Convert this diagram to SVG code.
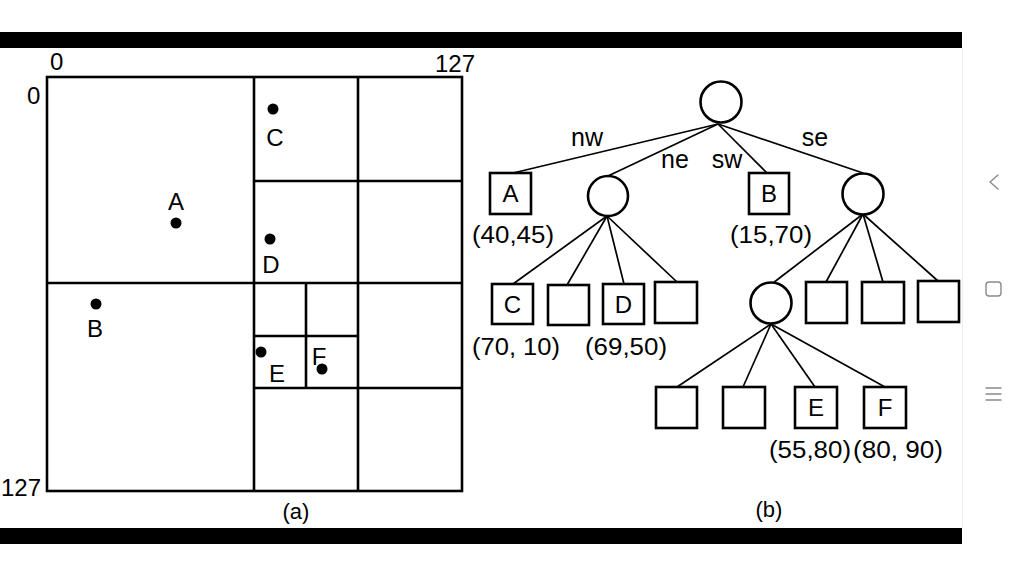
<svg xmlns="http://www.w3.org/2000/svg" width="1024" height="576" viewBox="0 0 1024 576">
<style>
text{font-family:"Liberation Sans",Arial,sans-serif;fill:#000}
.q{fill:none;stroke:#000;stroke-width:2.6}
.lbl{font-size:24px;text-anchor:middle}
.ax{font-size:24px}
.nd{fill:#fff;stroke:#000;stroke-width:2.6}
.e{stroke:#000;stroke-width:1.7;fill:none}
.nt{font-size:24px;text-anchor:middle}
.co{font-size:23px;text-anchor:middle}
.el{font-size:25px;text-anchor:middle}
.nav{fill:none;stroke:#8a8a8a;stroke-width:1.4;stroke-linecap:round;stroke-linejoin:round}
</style>
<rect width="1024" height="576" fill="#fff"/>
<rect x="0" y="32" width="962" height="16" fill="#000"/>
<rect x="0" y="528" width="962" height="16" fill="#000"/>
<line x1="962.5" y1="48" x2="962.5" y2="528" stroke="#eee" stroke-width="1"/>
<g id="nav">
<polyline class="nav" points="998,175 990,182 998,189"/>
<rect class="nav" x="986" y="282" width="15" height="14" rx="3"/>
<line class="nav" x1="986" y1="388" x2="1001" y2="388"/>
<line class="nav" x1="986" y1="394" x2="1001" y2="394"/>
<line class="nav" x1="986" y1="400" x2="1001" y2="400"/>
</g>
<g id="quadtree">
<rect class="q" x="47" y="77" width="415" height="414"/>
<line class="q" x1="254" y1="77" x2="254" y2="491"/>
<line class="q" x1="47" y1="283" x2="462" y2="283"/>
<line class="q" x1="358" y1="77" x2="358" y2="491"/>
<line class="q" x1="254" y1="181" x2="462" y2="181"/>
<line class="q" x1="254" y1="388" x2="462" y2="388"/>
<line class="q" x1="306" y1="283" x2="306" y2="388"/>
<line class="q" x1="254" y1="336" x2="358" y2="336"/>
<text class="ax" x="50" y="70">0</text>
<text class="ax" x="475" y="72" text-anchor="end">127</text>
<text class="ax" x="27" y="104">0</text>
<text class="ax" x="41" y="496" text-anchor="end">127</text>
<circle cx="273" cy="109" r="5.5"/>
<text class="lbl" x="275" y="146">C</text>
<circle cx="176" cy="223" r="5.5"/>
<text class="lbl" x="176" y="210">A</text>
<circle cx="270" cy="239" r="5.5"/>
<text class="lbl" x="271" y="273">D</text>
<circle cx="96" cy="304" r="5.5"/>
<text class="lbl" x="95" y="337">B</text>
<circle cx="261" cy="352" r="5.5"/>
<text class="lbl" x="277" y="382">E</text>
<circle cx="322" cy="369" r="5.5"/>
<text class="lbl" x="319" y="365">F</text>
<text x="296" y="519" font-size="22" text-anchor="middle">(a)</text>
</g>
<g id="connectors">
<line class="e" x1="718" y1="124" x2="513" y2="173"/>
<line class="e" x1="718" y1="124" x2="608" y2="176"/>
<line class="e" x1="718" y1="124" x2="767" y2="173"/>
<line class="e" x1="718" y1="124" x2="863" y2="173"/>
<line class="e" x1="607" y1="216" x2="513" y2="284"/>
<line class="e" x1="607" y1="216" x2="567" y2="285"/>
<line class="e" x1="607" y1="216" x2="624" y2="284"/>
<line class="e" x1="607" y1="216" x2="677" y2="282"/>
<line class="e" x1="863" y1="214" x2="773" y2="283"/>
<line class="e" x1="863" y1="214" x2="826" y2="282"/>
<line class="e" x1="863" y1="214" x2="883" y2="282"/>
<line class="e" x1="863" y1="214" x2="938" y2="281"/>
<line class="e" x1="771" y1="324" x2="677" y2="387"/>
<line class="e" x1="771" y1="324" x2="743" y2="387"/>
<line class="e" x1="771" y1="324" x2="815" y2="387"/>
<line class="e" x1="771" y1="324" x2="885" y2="387"/>
<text class="el" x="587" y="146">nw</text>
<text class="el" x="675" y="168">ne</text>
<text class="el" x="727" y="168">sw</text>
<text class="el" x="815" y="146">se</text>
</g>
<g id="root"><circle class="nd" cx="721" cy="102" r="20.5"/></g>
<g id="nA"><rect class="nd" x="490" y="173" width="41" height="41"/><text class="nt" x="510.5" y="202">A</text><text class="co" x="513" y="243" textLength="82" lengthAdjust="spacingAndGlyphs">(40,45)</text></g>
<g id="nNE"><circle class="nd" cx="608" cy="196" r="20"/></g>
<g id="nB"><rect class="nd" x="749" y="173" width="40" height="41"/><text class="nt" x="769" y="202">B</text><text class="co" x="771" y="243" textLength="82" lengthAdjust="spacingAndGlyphs">(15,70)</text></g>
<g id="nSE"><circle class="nd" cx="863" cy="194" r="20.5"/></g>
<g id="nC"><rect class="nd" x="492" y="284" width="41" height="40"/><text class="nt" x="512.5" y="313">C</text><text class="co" x="516" y="355" textLength="88" lengthAdjust="spacingAndGlyphs">(70, 10)</text></g>
<g id="nNE2"><rect class="nd" x="548" y="285" width="41" height="40"/></g>
<g id="nD"><rect class="nd" x="603" y="284" width="41" height="40"/><text class="nt" x="623.5" y="313">D</text><text class="co" x="626" y="355" textLength="82" lengthAdjust="spacingAndGlyphs">(69,50)</text></g>
<g id="nNE4"><rect class="nd" x="655" y="282" width="42" height="41"/></g>
<g id="nSENW"><circle class="nd" cx="771" cy="303" r="20.5"/></g>
<g id="nSE2"><rect class="nd" x="806" y="282" width="41" height="41"/></g>
<g id="nSE3"><rect class="nd" x="862" y="282" width="42" height="41"/></g>
<g id="nSE4"><rect class="nd" x="918" y="281" width="41" height="41"/></g>
<g id="nL1"><rect class="nd" x="656" y="387" width="41" height="41"/></g>
<g id="nL2"><rect class="nd" x="723" y="387" width="42" height="41"/></g>
<g id="nE"><rect class="nd" x="795" y="387" width="42" height="41"/><text class="nt" x="816" y="416">E</text><text class="co" x="810" y="458" textLength="82" lengthAdjust="spacingAndGlyphs">(55,80)</text></g>
<g id="nF"><rect class="nd" x="864" y="387" width="42" height="41"/><text class="nt" x="885" y="416">F</text><text class="co" x="898" y="458" textLength="90" lengthAdjust="spacingAndGlyphs">(80, 90)</text></g>
<text x="769" y="517" font-size="22" text-anchor="middle">(b)</text>
</svg>
